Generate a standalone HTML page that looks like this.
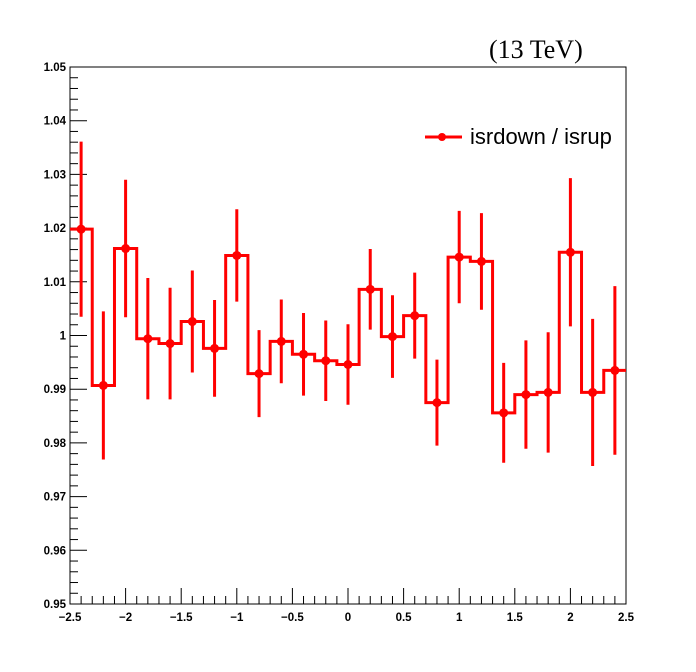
<!DOCTYPE html>
<html><head><meta charset="utf-8"><style>
body{margin:0;background:#fff}
svg{display:block}
.t{font-family:"Liberation Sans",sans-serif;font-weight:bold;font-size:11.5px}
</style></head><body>
<svg id="c" width="696" height="672">
<rect width="696" height="672" fill="#fff"/>
<text x="489" y="58" font-family="Liberation Serif,serif" font-size="26">(13 TeV)</text>
<g id="axes"></g>
<g id="data"></g>
<g>
<line x1="425" y1="137" x2="462" y2="137" stroke="#f00" stroke-width="3"/>
<circle cx="442" cy="137" r="4" fill="#f00"/>
<text x="470" y="144" font-family="Liberation Sans,sans-serif" font-size="22">isrdown / isrup</text>
</g>
</svg>
<script>
const centers=[-2.4,-2.2,-2.0,-1.8,-1.6,-1.4,-1.2,-1.0,-0.8,-0.6,-0.4,-0.2,0,0.2,0.4,0.6,0.8,1.0,1.2,1.4,1.6,1.8,2.0,2.2,2.4];
const values=[1.0198,0.9907,1.0162,0.9994,0.9985,1.0026,0.9976,1.0149,0.9929,0.9989,0.9965,0.9953,0.9946,1.0086,0.9998,1.0037,0.9875,1.0146,1.0138,0.9856,0.9890,0.9894,1.0155,0.9894,0.9935];
const errors=[0.0163,0.0138,0.0128,0.0113,0.0104,0.0095,0.009,0.0086,0.0081,0.0078,0.0077,0.0075,0.0075,0.0075,0.0077,0.008,0.008,0.0086,0.009,0.0093,0.0101,0.0112,0.0138,0.0137,0.0157];
const xTicks=["-2.5","-2","-1.5","-1","-0.5","0","0.5","1","1.5","2","2.5"];
const yTicks=["0.95","0.96","0.97","0.98","0.99","1","1.01","1.02","1.03","1.04","1.05"];
const binW=0.2;
const X0=70,X1=626,Y0=604,Y1=67;
const xs=v=>X0+(v+2.5)/5*(X1-X0);
const ys=v=>Y0-(v-0.95)/0.1*(Y0-Y1);
const NS="http://www.w3.org/2000/svg";
function mk(t,a,p){const e=document.createElementNS(NS,t);for(const k in a)e.setAttribute(k,a[k]);p.appendChild(e);return e;}
const ax=document.getElementById('axes'),dg=document.getElementById('data');
const fr=mk('rect',{x:X0,y:Y1,width:X1-X0,height:Y0-Y1,fill:'none',stroke:'#000','stroke-width':1},ax);


for(let i=0;i<=50;i++){const v=-2.5+i*0.1,x=xs(v),L=i%5==0?16:8;
 const l=mk('line',{x1:x,x2:x,y1:Y0,y2:Y0-L,stroke:'#000'},ax);
 
 }
for(let i=0;i<=50;i++){const v=0.95+i*0.002,y=ys(v),L=i%5==0?17:8;
 const l=mk('line',{x1:X0,x2:X0+L,y1:y,y2:y,stroke:'#000'},ax);
 
 }
xTicks.forEach(s=>{const t=mk('text',{x:xs(parseFloat(s)),y:621,'text-anchor':'middle',class:'t'},ax);t.textContent=s.replace('-','\u2212');
 
 });
yTicks.forEach(s=>{const t=mk('text',{x:66,y:ys(parseFloat(s))+4,'text-anchor':'end',class:'t'},ax);t.textContent=s;
 
 });
let d='';
centers.forEach((c,i)=>{const xl=xs(c-binW/2),xr=xs(c+binW/2),y=ys(values[i]);
 d+=(i==0?'M':'L')+xl+','+y+'L'+xr+','+y;});
const p=mk('path',{d:d,fill:'none',stroke:'#f00','stroke-width':3},dg);


centers.forEach((c,i)=>{const x=xs(c);
 const e=mk('line',{x1:x,x2:x,y1:ys(values[i]+errors[i]),y2:ys(values[i]-errors[i]),stroke:'#f00','stroke-width':3},dg);
 
 
 const m=mk('circle',{cx:x,cy:ys(values[i]),r:4.5,fill:'#f00'},dg);
 
 });
</script>
</body></html>
